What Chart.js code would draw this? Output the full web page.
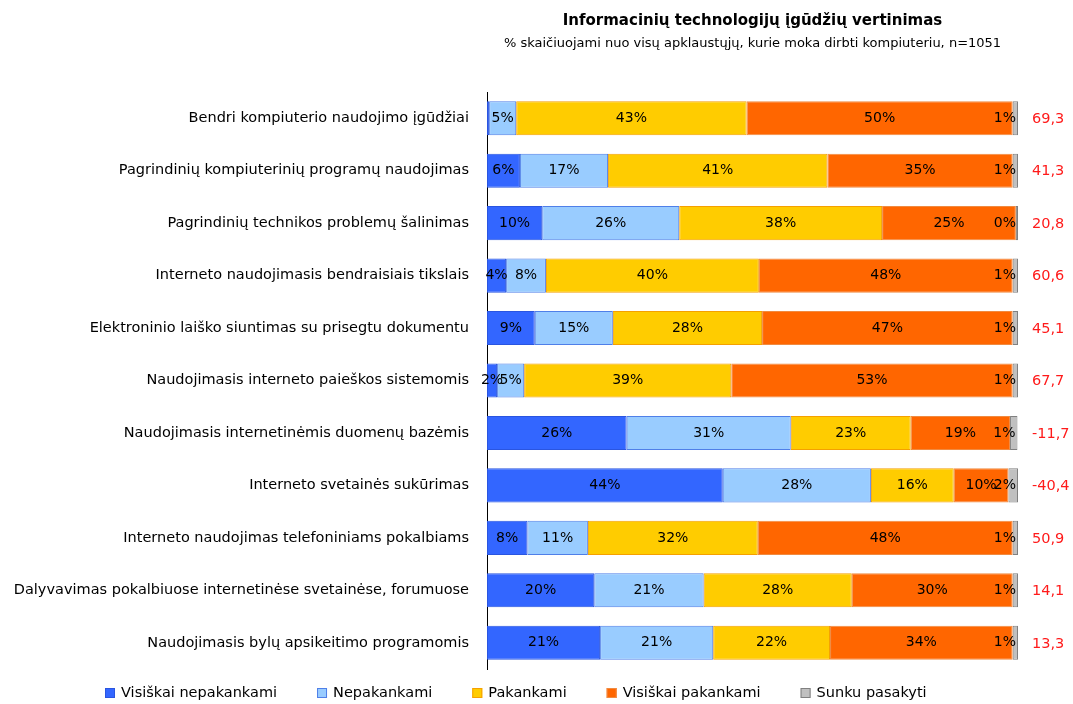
<!DOCTYPE html>
<html lang="lt">
<head>
<meta charset="UTF-8">
<title>Informacinių technologijų įgūdžių vertinimas</title>
<script src="https://cdn.jsdelivr.net/npm/chart.js"></script>
<style>
  body { margin: 0; background: #fff; }
  #wrap { width: 1073px; height: 704px; }
</style>
</head>
<body>
<div id="wrap"><canvas id="itChart" width="1073" height="704"></canvas></div>
<script>
const categories = [
  'Bendri kompiuterio naudojimo įgūdžiai',
  'Pagrindinių kompiuterinių programų naudojimas',
  'Pagrindinių technikos problemų šalinimas',
  'Interneto naudojimasis bendraisiais tikslais',
  'Elektroninio laiško siuntimas su prisegtu dokumentu',
  'Naudojimasis interneto paieškos sistemomis',
  'Naudojimasis internetinėmis duomenų bazėmis',
  'Interneto svetainės sukūrimas',
  'Interneto naudojimas telefoniniams pokalbiams',
  'Dalyvavimas pokalbiuose internetinėse svetainėse, forumuose',
  'Naudojimasis bylų apsikeitimo programomis'
];

const visiskaiNepakankami = [0.4, 6.2, 10.4, 3.6, 9.0, 1.9, 26.3, 44.4, 7.6, 20.2, 21.3];
const nepakankami         = [5.1, 16.6, 25.8, 7.5, 14.7, 5.1, 30.9, 27.9, 11.4, 20.6, 21.3];
const pakankami           = [43.4, 41.3, 38.2, 40.1, 28.1, 39.0, 22.6, 15.6, 32.0, 27.9, 22.0];
const visiskaiPakankami   = [50.1, 34.9, 25.2, 47.8, 47.2, 53.0, 18.7, 10.3, 48.0, 30.3, 34.4];
const sunkuPasakyti       = [1.0, 1.0, 0.4, 1.0, 1.0, 1.0, 1.4, 1.8, 1.0, 1.0, 1.0];

// balansas, rodomas raudonai dešinėje
const balance = ['69,3', '41,3', '20,8', '60,6', '45,1', '67,7', '-11,7', '-40,4', '50,9', '14,1', '13,3'];

const FONT = 'DejaVu Sans';

// procentų užrašai, balansas, antraštė ir legenda
const extras = {
  id: 'extras',
  afterDatasetsDraw(chart) {
    const ctx = chart.ctx;
    const area = chart.chartArea;
    ctx.save();
    ctx.font = '14px ' + FONT;
    ctx.fillStyle = '#000';
    ctx.textBaseline = 'middle';
    chart.data.datasets.forEach((ds, di) => {
      const meta = chart.getDatasetMeta(di);
      meta.data.forEach((bar, i) => {
        const v = ds.data[i];
        if (di === 0 && v < 1) return;
        const txt = Math.round(v) + '%';
        if (di === 4) {
          ctx.textAlign = 'right';
          ctx.fillText(txt, bar.x - 2, bar.y);
        } else {
          ctx.textAlign = 'center';
          ctx.fillText(txt, (bar.x + bar.base) / 2, bar.y);
        }
      });
    });

    ctx.font = '14.5px ' + FONT;
    ctx.fillStyle = '#ff1a1a';
    ctx.textAlign = 'left';
    chart.getDatasetMeta(0).data.forEach((bar, i) => {
      ctx.fillText(balance[i], area.right + 14, bar.y + 1);
    });

    const cx = (area.left + area.right) / 2;
    ctx.fillStyle = '#000';
    ctx.textAlign = 'center';
    ctx.font = 'bold 15px ' + FONT;
    ctx.fillText('Informacinių technologijų įgūdžių vertinimas', cx, 21);
    ctx.font = '13px ' + FONT;
    ctx.fillText('% skaičiuojami nuo visų apklaustųjų, kurie moka dirbti kompiuteriu, n=1051', cx, 44);

    // legenda
    ctx.font = '14.5px ' + FONT;
    ctx.textAlign = 'left';
    let x = 105;
    const y = 693;
    chart.data.datasets.forEach((ds) => {
      ctx.fillStyle = ds.backgroundColor;
      ctx.fillRect(x, y - 5, 10, 10);
      ctx.strokeStyle = ds.borderColor;
      ctx.lineWidth = 1;
      ctx.strokeRect(x + 0.5, y - 4.5, 9, 9);
      ctx.fillStyle = '#000';
      const tx = x + 16;
      ctx.fillText(ds.label, tx, y);
      x = tx + ctx.measureText(ds.label).width + 40;
    });
    ctx.restore();
  }
};

function ds(label, data, bg, border) {
  return { label, data, backgroundColor: bg, borderColor: border, borderWidth: 1, borderSkipped: false };
}

new Chart(document.getElementById('itChart'), {
  type: 'bar',
  data: {
    labels: categories,
    datasets: [
      ds('Visiškai nepakankami', visiskaiNepakankami, '#3366ff', '#2a55e0'),
      ds('Nepakankami', nepakankami, '#99ccff', '#4f7fe8'),
      ds('Pakankami', pakankami, '#ffcc00', '#f5a000'),
      ds('Visiškai pakankami', visiskaiPakankami, '#ff6600', '#f08a40'),
      ds('Sunku pasakyti', sunkuPasakyti, '#c0c0c0', '#808080')
    ]
  },
  options: {
    indexAxis: 'y',
    responsive: false,
    animation: false,
    categoryPercentage: 0.65,
    barPercentage: 1,
    layout: { padding: { top: 92, right: 55, left: 0, bottom: 35 } },
    scales: {
      x: { stacked: true, min: 0, max: 100, display: false },
      y: {
        stacked: true,
        grid: { display: false, drawTicks: false },
        border: { display: true, color: '#000', width: 1 },
        ticks: { color: '#000', font: { family: FONT, size: 14.5 }, padding: 18 },
        afterFit(scale) { scale.width = 487; }
      }
    },
    plugins: {
      tooltip: { enabled: false },
      legend: { display: false }
    }
  },
  plugins: [extras]
});
</script>
</body>
</html>
